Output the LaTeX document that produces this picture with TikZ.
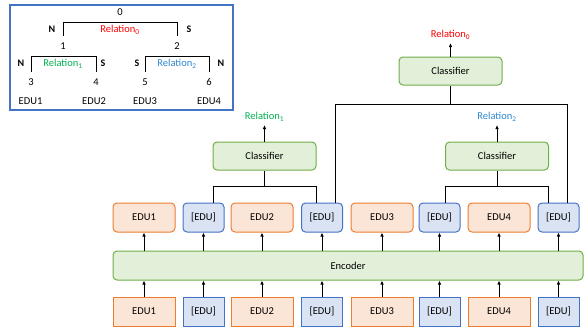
\documentclass[tikz,border=0pt]{standalone}
\usepackage{fontspec}
\setmainfont{Carlito}
\usetikzlibrary{arrows.meta}

\definecolor{edufill}{HTML}{FBE5D6}
\definecolor{eduline}{HTML}{ED7D31}
\definecolor{sepfill}{HTML}{DAE3F3}
\definecolor{sepline}{HTML}{4472C4}
\definecolor{encfill}{HTML}{E2F0D9}
\definecolor{encline}{HTML}{70AD47}
\definecolor{rel0}{HTML}{FF0000}
\definecolor{rel1}{HTML}{00B050}
\definecolor{rel2}{RGB}{47,133,204}

\tikzset{
  edubox/.style={draw=eduline,fill=edufill,line width=1pt,minimum width=62pt,minimum height=29pt,inner sep=0pt},
  sepbox/.style={draw=sepline,fill=sepfill,line width=1pt,minimum width=41pt,minimum height=29pt,inner sep=0pt},
  greenbox/.style={draw=encline,fill=encfill,line width=1pt,rounded corners=4pt,minimum height=28pt,inner sep=0pt},
  treenum/.style={inner sep=0pt,minimum height=20pt},
  nuc/.style={font=\bfseries},
  uparrow/.style={-{Latex[length=4pt,width=3.5pt]},line width=0.9pt},
}

\begin{document}
\begin{tikzpicture}[x=1pt,y=-1pt,font=\fontsize{10.5}{12}\selectfont]
      \useasboundingbox (0,0) rectangle (585,327);

      %%%%%%%%%%%%%%%%%%%%%%%%%%%%%%%%%%%%%%%%%%%%%%%%%%%%%%%%%%%%%%%%%%%%%%%%%%%
      %%%%  Tree
      \draw[sepline,line width=1.2pt] (10,5) rectangle (233,110);

      \node[treenum] (n0) at (120,12) {0};
      \node[treenum] (n1) at (63,46) {1};
      \node[treenum] (n2) at (177,46) {2};
      \node[treenum] (n3) at (31,82) {3};
      \node[treenum] (n4) at (96,82) {4};
      \node[treenum] (n5) at (145,82) {5};
      \node[treenum] (n6) at (209,82) {6};

      \draw[line width=1pt] (n1.north) |- (n0.south) -| (n2.north);
      \draw[line width=1pt] (n3.north) |- (n1.south) -| (n4.north);
      \draw[line width=1pt] (n5.north) |- (n2.south) -| (n6.north);

      \node[nuc] (nuc1) at (52,29) {N};
      \node[nuc] (nuc2) at (189,29) {S};
      \node[nuc] (nuc3) at (21,63) {N};
      \node[nuc] (nuc4) at (103,63) {S};
      \node[nuc] (nuc5) at (137,63) {S};
      \node[nuc] (nuc6) at (221,63) {N};

      \node[text=rel0] (tr0) at (120,30) {Relation\textsubscript{0}};
      \node[text=rel1] (tr1) at (63,64) {Relation\textsubscript{1}};
      \node[text=rel2] (tr2) at (177,64) {Relation\textsubscript{2}};

      \foreach \x/\n in {30.5/1,94/2,145/3,209/4}
       {\node (te\n) at (\x,101) {EDU\n};};

      %%%%%%%%%%%%%%%%%%%%%%%%%%%%%%%%%%%%%%%%%%%%%%%%%%%%%%%%%%%%%%%%%%%%%%%%%%%
      %%%%  Input and output rows
      \foreach \i/\x/\n in {1/144/1,3/262/2,5/382/3,7/499/4}
       {\node[edubox] (b\i) at (\x,311.5) {EDU\n};
        \node[edubox,rounded corners=4pt] (t\i) at (\x,217.5) {EDU\n};
      };
      \foreach \i/\x in {2/203.5,4/322,6/439.5,8/558.5}
       {\node[sepbox] (b\i) at (\x,311.5) {[EDU]};
        \node[sepbox,rounded corners=4pt] (t\i) at (\x,217.5) {[EDU]};
      };

      %%%%%%%%%%%%%%%%%%%%%%%%%%%%%%%%%%%%%%%%%%%%%%%%%%%%%%%%%%%%%%%%%%%%%%%%%%%
      %%%%  Encoder
      \node[greenbox,minimum width=470pt,minimum height=29pt] (enc) at (348,265.5) {Encoder};

      \foreach \i in {1,...,8}
       {\draw[uparrow] (b\i) -- (b\i |- enc.south);
        \draw[uparrow] (enc.north -| t\i) -- (t\i);
      };

      %%%%%%%%%%%%%%%%%%%%%%%%%%%%%%%%%%%%%%%%%%%%%%%%%%%%%%%%%%%%%%%%%%%%%%%%%%%
      %%%%  Classifiers
      \node[greenbox,minimum width=103pt] (c1) at (264.5,156) {Classifier};
      \node[greenbox,minimum width=103pt] (c2) at (497,156) {Classifier};
      \node[greenbox,minimum width=103pt] (c0) at (450.5,71) {Classifier};

      \node[text=rel1] (r1) at (264.5,117) {Relation\textsubscript{1}};
      \node[text=rel2] (r2) at (497,117) {Relation\textsubscript{2}};
      \node[text=rel0] (r0) at (450.5,35) {Relation\textsubscript{0}};

      \draw[uparrow] (c1) -- (r1);
      \draw[uparrow] (c2) -- (r2);
      \draw[uparrow] (c0) -- (r0);

      % span EDU1--EDU2
      \draw[line width=1pt] ([xshift=9.5pt]t2.north) |- ([yshift=-16pt]c1.south) -- (c1.south);
      \draw[line width=1pt] ([xshift=-6pt]t4.north) |- ([yshift=-16pt]c1.south);
      % span EDU3--EDU4
      \draw[line width=1pt] ([xshift=5.5pt]t6.north) |- ([yshift=-16pt]c2.south) -- (c2.south);
      \draw[line width=1pt] ([xshift=-10.5pt]t8.north) |- ([yshift=-16pt]c2.south);
      % span EDU1--EDU4
      \draw[line width=1pt] ([xshift=13pt]t4.north) |- ([yshift=-19pt]c0.south) -- (c0.south);
      \draw[line width=1pt] ([xshift=8.5pt]t8.north) |- ([yshift=-19pt]c0.south);
\end{tikzpicture}
\end{document}
